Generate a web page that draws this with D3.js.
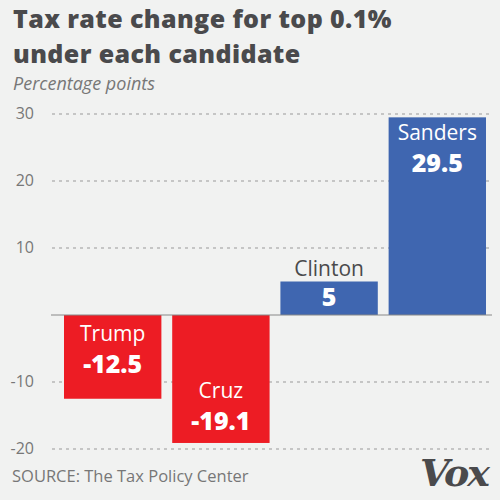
<!DOCTYPE html>
<html><head><meta charset="utf-8">
<script src="https://cdn.jsdelivr.net/npm/d3@7"></script>
<style>html,body{margin:0;padding:0;background:#f1f2f1;}</style>
</head><body>
<script>
const candidates = ["Trump", "Cruz", "Clinton", "Sanders"];
const values = [-12.5, -19.1, 5, 29.5];
const barColors = ["#ed1c24", "#ed1c24", "#3f66b0", "#3f66b0"];
const valueLabels = ["-12.5", "-19.1", "5", "29.5"];
const yTicks = [-20, -10, 0, 10, 20, 30];

const W = 500, H = 500;
const svg = d3.select("body").append("svg").attr("width", W).attr("height", H)
  .style("background", "#f1f2f1");

const y = d3.scaleLinear().domain([-20, 30]).range([449, 114]);
const x = d3.scaleBand().domain(candidates).range([64, 486]).paddingInner(0.1).paddingOuter(0);

const font = "'Open Sans', 'Noto Sans', sans-serif";

// Title
const title = svg.append("g").attr("font-family", font).attr("font-weight", 800).attr("fill", "#4a4a4c")
  .attr("font-size", 25).attr("letter-spacing", 0.4);
title.append("text").attr("x", 13).attr("y", 28).text("Tax rate change for top 0.1%");
title.append("text").attr("x", 13).attr("y", 63).text("under each candidate");
svg.append("text").attr("x", 13).attr("y", 90).attr("font-family", font).attr("font-style", "italic")
  .attr("font-size", 18).attr("fill", "#777").text("Percentage points");

// Grid
const grid = svg.append("g");
grid.selectAll("line").data(yTicks.filter(d => d !== 0)).join("line")
  .attr("x1", 52).attr("x2", 492).attr("y1", d => y(d)).attr("y2", d => y(d))
  .attr("stroke", "#999").attr("stroke-width", 1).attr("stroke-dasharray", "3,4");
grid.selectAll("text").data(yTicks.filter(d => d !== 0)).join("text")
  .attr("x", 34).attr("y", d => y(d) + 5).attr("text-anchor", "end")
  .attr("font-family", font).attr("font-size", 16).attr("fill", "#777").text(d => d);

// Bars
svg.append("g").selectAll("rect").data(candidates).join("rect")
  .attr("x", d => x(d)).attr("width", x.bandwidth())
  .attr("y", (d, i) => y(Math.max(0, values[i])))
  .attr("height", (d, i) => Math.abs(y(values[i]) - y(0)))
  .attr("fill", (d, i) => barColors[i]);

// Zero line
svg.append("line").attr("x1", 51).attr("x2", 492).attr("y1", y(0)).attr("y2", y(0))
  .attr("stroke", "#888").attr("stroke-width", 1);

// Labels
const lab = svg.append("g").attr("font-family", font).attr("text-anchor", "middle");
candidates.forEach((c, i) => {
  const v = values[i];
  const cx = x(c) + x.bandwidth() / 2;
  let nameY, valY, nameFill = "#fff";
  if (v < 0 && i === 0) { nameY = y(0) + 26; valY = y(0) + 58; }
  else if (v < 0) { valY = y(v) - 13; nameY = valY - 32; }
  else if (y(0) - y(v) < 60) { nameY = y(v) - 6; valY = y(0) - 9; nameFill = "#4a4a4c"; }
  else { nameY = y(v) + 23; valY = y(v) + 55; }
  lab.append("text").attr("x", cx).attr("y", nameY).attr("font-size", 21).attr("fill", nameFill).text(c);
  lab.append("text").attr("x", cx).attr("y", valY).attr("font-size", 25).attr("font-weight", 800).attr("fill", "#fff").text(valueLabels[i]);
});

// Source
svg.append("text").attr("x", 12).attr("y", 482).attr("font-family", font).attr("font-size", 16.5)
  .attr("fill", "#777").text("SOURCE: The Tax Policy Center");
svg.append("text").attr("x", 488).attr("y", 486).attr("text-anchor", "end")
  .attr("font-family", "'DejaVu Serif', serif").attr("font-weight", 700).attr("font-style", "italic")
  .attr("font-size", 38).attr("fill", "#4a4a4c").attr("letter-spacing", -2).text("Vox");
</script>
</body></html>
